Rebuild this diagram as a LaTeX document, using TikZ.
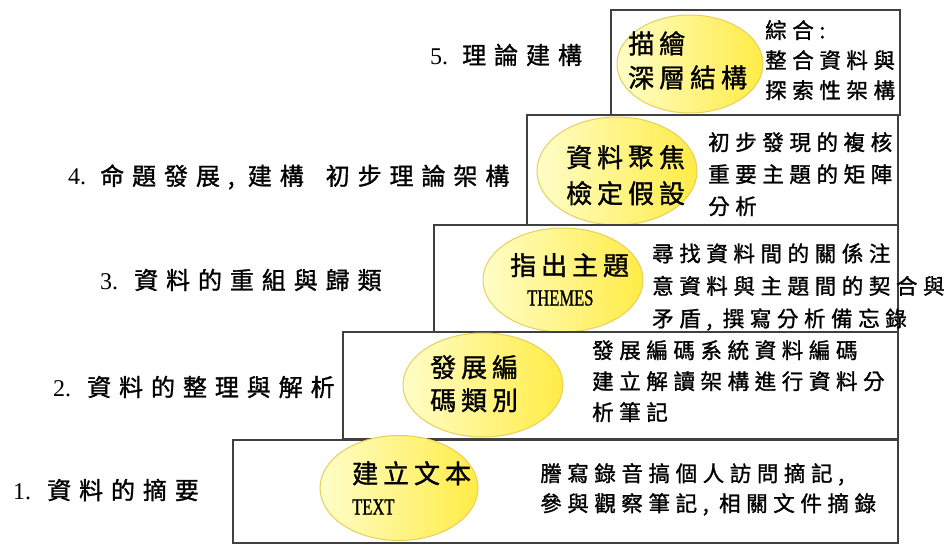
\documentclass[tikz,border=0pt]{standalone}
\usepackage{fontspec}
\setmainfont{Liberation Serif}
\newfontfamily\labfont[LetterSpace=33,FakeBold=1.2]{Noto Sans CJK TC}
\newfontfamily\boxfont[LetterSpace=26,FakeBold=1.2]{Noto Sans CJK TC}
\newfontfamily\ellfont[LetterSpace=19,FakeBold=1.2]{Noto Sans CJK TC}
\newfontfamily\narrowfont[FakeStretch=0.72,FakeBold=1]{Liberation Serif}
\usetikzlibrary{shapes.geometric}
\definecolor{boxline}{RGB}{64,64,64}
\definecolor{ylight}{RGB}{255,253,200}
\definecolor{ydark}{RGB}{255,236,70}
\definecolor{yedge}{RGB}{232,206,90}
\tikzset{
  stepbox/.style={draw=boxline, line width=1.6pt, fill=white},
  blob/.style={ellipse, draw=yedge, line width=1pt, left color=ylight, right color=ydark, inner sep=0pt},
  levellabel/.style={anchor=west, inner sep=0pt, font=\labfont\fontsize{24}{30}\selectfont},
  boxtext/.style={anchor=north west, inner sep=0pt, align=left, font=\boxfont\fontsize{21.5}{31}\selectfont},
  blobtext/.style={anchor=north west, inner sep=0pt, align=left, font=\ellfont\fontsize{26}{35}\selectfont},
  engtext/.style={anchor=west, inner sep=0pt, font=\narrowfont\fontsize{23}{26}\selectfont}
}
\begin{document}
\begin{tikzpicture}[x=1pt,y=-1pt]
\useasboundingbox (0,0) rectangle (945,546);
\fill[white] (0,0) rectangle (945,546);
% level 5
\draw[stepbox] (611,10) rectangle (900,115);
\node[blob, minimum width=146pt, minimum height=98pt] (e5) at (690,64) {};
% level 4
\draw[stepbox] (527,115) rectangle (898,225);
\node[blob, minimum width=160pt, minimum height=108pt] (e4) at (617,171) {};
% level 3
\draw[stepbox] (434,225) rectangle (898,332);
\node[blob, minimum width=160pt, minimum height=104pt] (e3) at (563,280) {};
% level 2
\draw[stepbox] (343,332) rectangle (898,439);
\node[blob, minimum width=160pt, minimum height=104pt] (e2) at (483,385) {};
% level 1
\draw[stepbox] (233,440) rectangle (898,543);
\node[blob, minimum width=158pt, minimum height=105pt] (e1) at (399,488) {};

% ellipse texts
\node[blobtext, font=\ellfont\fontsize{26}{34}\selectfont] (t5) at (628,31) {描繪\\深層結構};
\node[blobtext, font=\ellfont\fontsize{26}{36}\selectfont] (t4) at (566,145) {資料聚焦\\檢定假設};
\node[blobtext] (t3) at (510,253) {指出主題};
\node[engtext] (t3e) at (527,298) {THEMES};
\node[blobtext, font=\ellfont\fontsize{26}{33}\selectfont] (t2) at (430,355) {發展編\\碼類別};
\node[blobtext] (t1) at (352,461) {建立文本};
\node[engtext] (t1e) at (352,507) {TEXT};

% box texts
\node[boxtext, font=\boxfont\fontsize{21.5}{30}\selectfont] (d5) at (765,20) {綜合:\\整合資料與\\探索性架構};
\node[boxtext, font=\boxfont\fontsize{21.5}{32}\selectfont] (d4) at (708,132) {初步發現的複核\\重要主題的矩陣\\分析};
\node[boxtext, font=\boxfont\fontsize{21.5}{32.5}\selectfont] (d3) at (652,243) {尋找資料間的關係注\\意資料與主題間的契合與\\矛盾, 撰寫分析備忘錄};
\node[boxtext] (d2) at (592,340) {發展編碼系統資料編碼\\建立解讀架構進行資料分\\析筆記};
\node[boxtext, font=\boxfont\fontsize{21.5}{30}\selectfont] (d1) at (540,463) {謄寫錄音搞個人訪問摘記,\\參與觀察筆記, 相關文件摘錄};

% level labels
\node[levellabel] (l5) at (430,55) {{\rmfamily\fontsize{24}{30}\selectfont 5.}\hspace{14pt}理論建構};
\node[levellabel] (l4) at (68,177) {{\rmfamily\fontsize{24}{30}\selectfont 4.}\hspace{14pt}命題發展, 建構\hspace{22pt}初步理論架構};
\node[levellabel] (l3) at (100,280) {{\rmfamily\fontsize{24}{30}\selectfont 3.}\hspace{16pt}資料的重組與歸類};
\node[levellabel] (l2) at (53,387) {{\rmfamily\fontsize{24}{30}\selectfont 2.}\hspace{16pt}資料的整理與解析};
\node[levellabel] (l1) at (13,490) {{\rmfamily\fontsize{24}{30}\selectfont 1.}\hspace{16pt}資料的摘要};
\end{tikzpicture}
\end{document}
